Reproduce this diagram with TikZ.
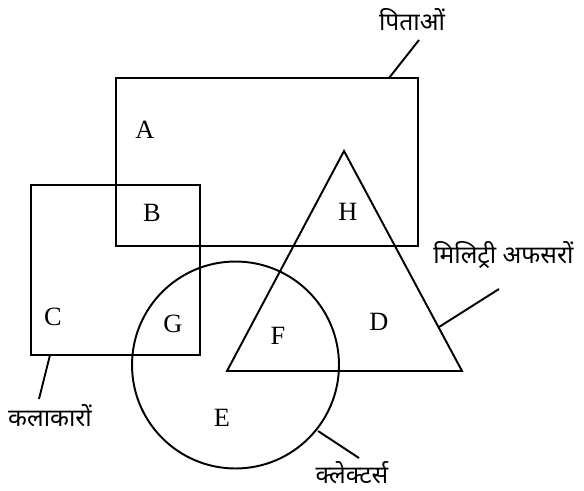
\documentclass[tikz,border=0pt]{standalone}
\usepackage{fontspec}
\setmainfont{Liberation Serif}
\newfontfamily\hindifont[Script=Devanagari]{Noto Sans}
\usepackage{tikz}
\tikzset{
  region/.style={draw,line width=1.1pt},
  leader/.style={line width=1.1pt},
  letter/.style={font=\fontsize{15}{15}\selectfont,inner sep=0pt},
  setname/.style={font=\hindifont\fontsize{14}{14}\selectfont,inner sep=0pt}
}

\begin{document}
\begin{tikzpicture}[x=0.02cm,y=-0.02cm]
\useasboundingbox (0,0) rectangle (584,490);
% sets
\draw[region] (116,78) rectangle (418,246);
\draw[region] (31,185) rectangle (200,355);
\coordinate (cc) at (235.5,365);
\draw[region] (cc) circle[radius=2.07cm];
\coordinate (t1) at (344,151);
\coordinate (t2) at (227,371);
\coordinate (t3) at (462,371);
\draw[region] (t1) -- (t2) -- (t3) -- cycle;
% region letters
\node[letter] (A) at (145,130) {A};
\node[letter] (B) at (152,213) {B};
\node[letter] (C) at (53,317) {C};
\node[letter] (G) at (173,324) {G};
\node[letter] (H) at (348,212) {H};
\node[letter] (F) at (278,336) {F};
\node[letter] (D) at (379,322) {D};
\node[letter] (E) at (222,418) {E};
% set names
\node[setname] (fathers) at (412,20) {पिताओं};
\node[setname, anchor=west] (officers) at (433,255) {मिलिट्री अफसरों};
\node[setname] (artists) at (50,416) {कलाकारों};
\node[setname] (collectors) at (352,473) {क्लेक्टर्स};
\coordinate (f1) at (389,78);
\coordinate (f2) at (419,40);
\coordinate (o1) at (439,327);
\coordinate (o2) at (499,289);
\coordinate (a1) at (50,355);
\coordinate (a2) at (39,399);
\coordinate (k1) at (318,431);
\coordinate (k2) at (359,458);
\draw[leader] (f1) -- (f2);
\draw[leader] (o1) -- (o2);
\draw[leader] (a1) -- (a2);
\draw[leader] (k1) -- (k2);
\end{tikzpicture}
\end{document}
